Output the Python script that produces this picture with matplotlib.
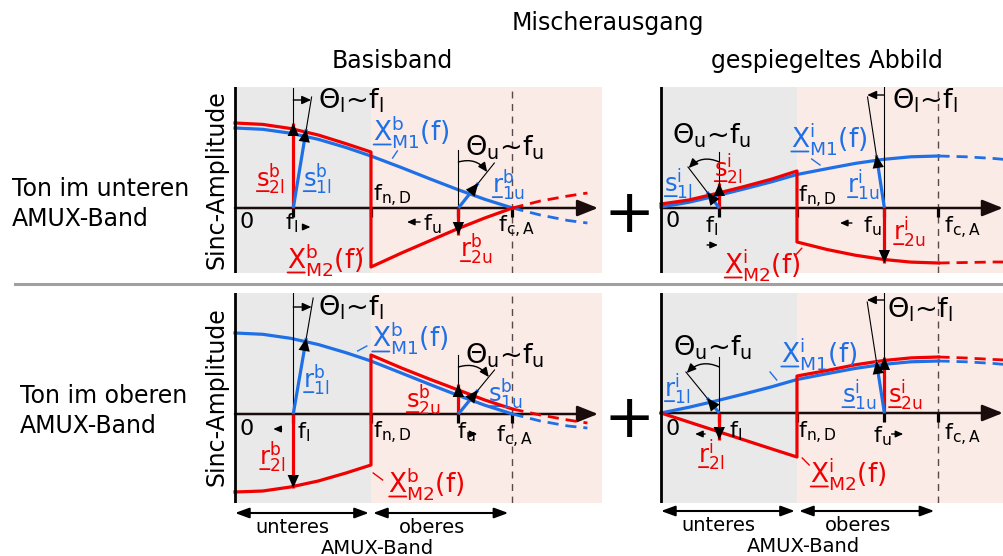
import matplotlib
matplotlib.use('Agg')
import matplotlib.pyplot as plt
from matplotlib.transforms import offset_copy
from matplotlib.mathtext import MathTextParser
from matplotlib.font_manager import FontProperties

plt.rcParams['font.family'] = ['DejaVu Sans']
plt.rcParams['mathtext.fontset'] = 'dejavusans'
plt.rcParams['mathtext.default'] = 'regular'

W, H = 1004, 556
fig = plt.figure(figsize=(W / 100, H / 100), dpi=100)

try:
    MathTextParser('path').parse(r'$\underline{s}$', 72, FontProperties())
    HAS_UL = True
except Exception:
    HAS_UL = False

RED = '#f00000'
BLUE = '#1f6fe6'
GRAY_BG = '#e9e9e9'
PINK_BG = '#fbebe6'
DASH_C = '#5a4848'

# ---------------- data (frequency normalised to f_c,A ; amplitude in arbitrary units) -------------
F_LOW = [0.0, 0.1, 0.2, 0.3, 0.4, 0.49]
F_UP = [0.49, 0.6, 0.7, 0.8, 0.9, 1.0]
F_EXT_LEFT = [1.0, 1.1, 1.2, 1.27]
F_EXT_RIGHT = [1.0, 1.1, 1.2, 1.24]
F_L, F_ND, F_U, F_CA = 0.21, 0.49, 0.805, 1.0

# top-left: Basisband, Ton im unteren Band
TL_BLUE_LOW = [80, 78.7, 74.8, 68.7, 60.5, 52]
TL_BLUE_UP = [52, 40.4, 29.4, 18.7, 8.7, 0]
TL_BLUE_EXT = [0, -7, -12.5, -15]
TL_RED_LOW = [85, 83.6, 79.5, 73, 64.3, 56]
TL_RED_UP = [-59, -45, -33, -21, -10, 0]
TL_RED_EXT = [0, 7, 12, 15]
# top-right: gespiegeltes Abbild, Ton im unteren Band
TR_BLUE_LOW = [1, 5.7, 12.2, 19.1, 26.3, 33.5]
TR_BLUE_UP = [33.5, 39.4, 44.6, 48.6, 51.2, 52]
TR_BLUE_EXT = [52, 51.2, 49.5, 48.5]
TR_RED_LOW = [4, 8, 14.5, 21.5, 29, 37]
TR_RED_UP = [-34, -41.6, -47.2, -51.4, -54.1, -55]
TR_RED_EXT = [-55, -54.5, -54, -54]
# bottom-left: Basisband, Ton im oberen Band
BL_BLUE_LOW = [81, 79.7, 75.7, 69.5, 61.3, 53]
BL_BLUE_UP = [53, 40.9, 29.8, 19, 8.8, 0]
BL_BLUE_EXT = [0, -7, -12, -14]
BL_RED_LOW = [-78, -77, -73, -67, -59, -51]
BL_RED_UP = [59, 46, 35, 24.5, 14, 5]
BL_RED_EXT = [5, -1, -6, -9]
# bottom-right: gespiegeltes Abbild, Ton im oberen Band
BR_BLUE_LOW = [0, 5.7, 12.2, 19.1, 26.3, 33.5]
BR_BLUE_UP = [33.5, 39.4, 44.6, 48.6, 51.2, 52]
BR_BLUE_EXT = [52, 51.2, 49.5, 48.5]
BR_RED_LOW = [0, -9, -18, -27, -36, -44]
BR_RED_UP = [37, 42.6, 48.2, 52.4, 55.1, 56]
BR_RED_EXT = [56, 55, 53.5, 53]

# phasors: red ones are vertical (amplitude), blue ones tip (frequency, amplitude)
TL_S2L_RED, TL_S1L_BLUE, TL_R2U_RED, TL_R1U_BLUE = 85, (0.257, 79), -27, (0.877, 25)
TR_S2L_RED, TR_S1L_BLUE, TR_R2U_RED, TR_R1U_BLUE = 25, (0.166, 16), -55, (0.776, 53)
BL_R2L_RED, BL_R1L_BLUE, BL_S2U_RED, BL_S1U_BLUE = -74, (0.257, 76), 30, (0.876, 24)
BR_R2L_RED, BR_R1L_BLUE, BR_S2U_RED, BR_S1U_BLUE = -27, (0.166, 15), 56, (0.776, 52)

# ---------------- layout ----------------
S = 277.5  # px per unit frequency
VS = 17.5   # phasor label size
XS = 19     # curve label size
TS = 19.5   # theta label size
FS = 16     # frequency label size


def make_panel(x0, xl, xr, yt, yb, yaxis):
    ax = fig.add_axes([xl / W, 1 - yb / H, (xr - xl) / W, (yb - yt) / H])
    ax.set_xlim((xl - x0) / S, (xr - x0) / S)
    ax.set_ylim(yaxis - yb, yaxis - yt)
    ax.axis('off')
    return ax


def head(ax, f0, a0, f1, a1, ms=17, hl=0.55, hw=0.24):
    ax.annotate('', xy=(f1, a1), xytext=(f0, a0),
                arrowprops=dict(arrowstyle='-|>,head_length=%g,head_width=%g' % (hl, hw),
                                color='black', lw=0, mutation_scale=ms, shrinkA=0, shrinkB=0),
                zorder=7)


def phasor(ax, fb, f1, a1, color):
    ax.plot([fb, f1], [0, a1], color=color, lw=2.3, solid_capstyle='butt', zorder=6)
    head(ax, fb, 0, f1, a1)


def small_arrow(ax, f0, f1, a, ms=9, lw=1.0):
    ax.annotate('', xy=(f1, a), xytext=(f0, a),
                arrowprops=dict(arrowstyle='-|>,head_length=0.5,head_width=0.22', color='black',
                                lw=lw, mutation_scale=ms, shrinkA=0, shrinkB=0), zorder=7)


def theta_lines(ax, fb, tip, top, ext):
    ax.plot([fb, fb], [0, top], color='black', lw=0.8, zorder=5)
    fe = fb + (tip[0] - fb) * ext / tip[1]
    ax.plot([fb, fe], [0, ext], color='black', lw=0.8, zorder=5)


def theta_hor(ax, fb, tip, a):
    fe = fb + (tip[0] - fb) * a / tip[1]
    ax.annotate('', xy=(fe, a), xytext=(fb, a),
                arrowprops=dict(arrowstyle='-|>,head_length=0.55,head_width=0.25', color='black',
                                lw=1.0, mutation_scale=10, shrinkA=0, shrinkB=0), zorder=7)


def theta_arc(ax, fb, tip, a0, a1, rad):
    fe = fb + (tip[0] - fb) * a1 / tip[1]
    ax.annotate('', xy=(fe, a1), xytext=(fb, a0),
                arrowprops=dict(arrowstyle='-|>,head_length=0.55,head_width=0.25', color='black',
                                lw=1.0, mutation_scale=10, shrinkA=0, shrinkB=0,
                                connectionstyle='arc3,rad=%g' % rad), zorder=7)


ADV = {'s': 0.521, 'r': 0.411, 'X': 0.685}


def vlabel(ax, f, a, base, sub, sup, color, size=VS, tail=''):
    if HAS_UL:
        s = r'$\underline{%s}_{%s}^{%s}%s$' % (base, sub, sup, tail)
    else:
        s = r'$%s_{%s}^{%s}%s$' % (base, sub, sup, tail)
    ax.text(f, a, s, color=color, fontsize=size, ha='left', va='baseline', zorder=8)
    if not HAS_UL:
        tr = offset_copy(ax.transData, fig=fig, x=0.5, y=-0.17 * size, units='points')
        ax.annotate('', xy=(f, a), xycoords=tr, xytext=(ADV[base] * size * 0.95, 0),
                    textcoords='offset points',
                    arrowprops=dict(arrowstyle='-', color=color, lw=1.3, shrinkA=0, shrinkB=0))


def leader(ax, f0, a0, f1, a1, color):
    ax.plot([f0, f1], [a0, a1], color=color, lw=1.0, zorder=8)


def tx(ax, f, a, s, size=FS, color='black'):
    ax.text(f, a, s, fontsize=size, color=color, ha='left', va='baseline', zorder=8)


def base_panel(ax, f_ext, blue_low, blue_up, blue_ext, red_low, red_up, red_ext, axis_end):
    x1 = ax.get_xlim()[1]
    ax.axvspan(0, F_ND, color=GRAY_BG, lw=0, zorder=0)
    ax.axvspan(F_ND, x1, color=PINK_BG, lw=0, zorder=0)
    ax.axvline(F_CA, color=DASH_C, lw=1.0, ls=(0, (5, 4)), zorder=1)
    ax.axvline(0, color='black', lw=2.0, zorder=5)
    ax.annotate('', xy=(axis_end, 0), xytext=(0, 0),
                arrowprops=dict(arrowstyle='-|>,head_length=0.7,head_width=0.28', color='#1a0c0c',
                                lw=1.8, mutation_scale=18, shrinkA=0, shrinkB=0), zorder=3)
    for f in (F_L, F_ND, F_U, F_CA):
        ax.plot([f, f], [0, -9], color='black', lw=2.3, solid_capstyle='butt', zorder=4)
    ax.plot(F_LOW + F_UP, blue_low + blue_up, color=BLUE, lw=2.3, zorder=4)
    ax.plot(f_ext, blue_ext, color=BLUE, lw=2.0, ls=(0, (4, 2.5)), zorder=4)
    ax.plot(F_LOW + F_UP, red_low + red_up, color=RED, lw=2.3, zorder=4)
    ax.plot(f_ext, red_ext, color=RED, lw=2.0, ls=(0, (4, 2.5)), zorder=4)


# ---------------- overlay (titles, side labels) ----------------
def ftext(x, y, s, **kw):
    fig.text(x / W, 1 - y / H, s, **kw)


ftext(608, 30, 'Mischerausgang', fontsize=17, ha='center', va='baseline')
ftext(392, 68, 'Basisband', fontsize=17, ha='center', va='baseline')
ftext(827, 68, 'gespiegeltes Abbild', fontsize=17, ha='center', va='baseline')
ftext(12, 196, 'Ton im unteren', fontsize=17, ha='left', va='baseline')
ftext(12, 226, 'AMUX-Band', fontsize=17, ha='left', va='baseline')
ftext(20, 403, 'Ton im oberen', fontsize=17, ha='left', va='baseline')
ftext(20, 433, 'AMUX-Band', fontsize=17, ha='left', va='baseline')
ftext(217, 180, 'Sinc-Amplitude', fontsize=17, ha='center', va='center', rotation=90)
ftext(217, 397, 'Sinc-Amplitude', fontsize=17, ha='center', va='center', rotation=90)
ftext(629, 209, '+', fontsize=44, ha='center', va='center_baseline')
ftext(629, 414, '+', fontsize=44, ha='center', va='center_baseline')
fig.add_artist(plt.Line2D([15 / W, 1], [1 - 284 / H, 1 - 284 / H], color='#a0a0a0', lw=2.2))

# ---------------- panels ----------------
TL = make_panel(235, 232, 602, 87, 273, 208)
TR = make_panel(661, 658, 1004, 87, 273, 208)
BL = make_panel(235, 232, 602, 293, 503, 414)
BR = make_panel(661, 658, 1004, 293, 503, 413)

base_panel(TL, F_EXT_LEFT, TL_BLUE_LOW, TL_BLUE_UP, TL_BLUE_EXT, TL_RED_LOW, TL_RED_UP, TL_RED_EXT, 1.308)
base_panel(TR, F_EXT_RIGHT, TR_BLUE_LOW, TR_BLUE_UP, TR_BLUE_EXT, TR_RED_LOW, TR_RED_UP, TR_RED_EXT, 1.232)
base_panel(BL, F_EXT_LEFT, BL_BLUE_LOW, BL_BLUE_UP, BL_BLUE_EXT, BL_RED_LOW, BL_RED_UP, BL_RED_EXT, 1.308)
base_panel(BR, F_EXT_RIGHT, BR_BLUE_LOW, BR_BLUE_UP, BR_BLUE_EXT, BR_RED_LOW, BR_RED_UP, BR_RED_EXT, 1.232)

TH_L = r'$\Theta_l$~$f_l$'
TH_U = r'$\Theta_u$~$f_u$'

# --- top-left
ax = TL
theta_lines(ax, F_L, TL_S1L_BLUE, 120, 111)
theta_hor(ax, F_L, TL_S1L_BLUE, 108)
theta_lines(ax, F_U, TL_R1U_BLUE, 58, 45)
theta_arc(ax, F_U, TL_R1U_BLUE, 46, 36, -0.35)
phasor(ax, F_L, F_L, TL_S2L_RED, RED)
phasor(ax, F_L, *TL_S1L_BLUE, BLUE)
phasor(ax, F_U, F_U, TL_R2U_RED, RED)
phasor(ax, F_U, *TL_R1U_BLUE, BLUE)
tx(ax, 0.299, 100, TH_L, TS)
tx(ax, 0.829, 53, TH_U, TS)
vlabel(ax, 0.076, 21, 's', '2l', 'b', RED)
vlabel(ax, 0.245, 21, 's', '1l', 'b', BLUE)
vlabel(ax, 0.497, 68, 'X', 'M1', 'b', BLUE, XS, tail='(f)')
vlabel(ax, 0.187, -60, 'X', 'M2', 'b', RED, XS, tail='(f)')
vlabel(ax, 0.926, 15, 'r', '1u', 'b', BLUE)
vlabel(ax, 0.811, -49, 'r', '2u', 'b', RED)
leader(ax, 0.568, 50, 0.585, 57, BLUE)
leader(ax, 0.438, -47, 0.461, -40, RED)
tx(ax, 0.018, -20, '0')
tx(ax, 0.18, -21, r'$f_l$')
small_arrow(ax, 0.245, 0.272, -19)
tx(ax, 0.497, 7, r'$f_{n,D}$')
small_arrow(ax, 0.667, 0.62, -14)
tx(ax, 0.677, -22, r'$f_u$')
tx(ax, 0.948, -24, r'$f_{c,A}$')

# --- top-right
ax = TR
theta_lines(ax, F_L, TR_S1L_BLUE, 56, 41)
theta_arc(ax, F_L, TR_S1L_BLUE, 46, 40, 0.35)
theta_lines(ax, F_U, TR_R1U_BLUE, 121, 111)
theta_hor(ax, F_U, TR_R1U_BLUE, 113)
phasor(ax, F_L, F_L, TR_S2L_RED, RED)
phasor(ax, F_L, *TR_S1L_BLUE, BLUE)
phasor(ax, F_U, F_U, TR_R2U_RED, RED)
phasor(ax, F_U, *TR_R1U_BLUE, BLUE)
tx(ax, 0.038, 65, TH_U, TS)
tx(ax, 0.831, 100, TH_L, TS)
vlabel(ax, 0.011, 16, 's', '1l', 'i', BLUE)
vlabel(ax, 0.191, 31, 's', '2l', 'i', RED)
vlabel(ax, 0.467, 61, 'X', 'M1', 'i', BLUE, XS, tail='(f)')
vlabel(ax, 0.227, -65, 'X', 'M2', 'i', RED, XS, tail='(f)')
vlabel(ax, 0.671, 15, 'r', '1u', 'i', BLUE)
vlabel(ax, 0.837, -32, 'r', '2u', 'i', RED)
leader(ax, 0.543, 49, 0.573, 43, BLUE)
leader(ax, 0.483, -47.7, 0.507, -40.3, RED)
tx(ax, 0.018, -19, '0')
tx(ax, 0.159, -24, r'$f_l$')
small_arrow(ax, 0.166, 0.205, -37)
tx(ax, 0.495, 6, r'$f_{n,D}$')
small_arrow(ax, 0.688, 0.645, -15)
tx(ax, 0.727, -24, r'$f_u$')
tx(ax, 1.02, -25, r'$f_{c,A}$')

# --- bottom-left
ax = BL
theta_lines(ax, F_L, BL_R1L_BLUE, 121, 116)
theta_hor(ax, F_L, BL_R1L_BLUE, 107)
theta_lines(ax, F_U, BL_S1U_BLUE, 59, 44)
theta_arc(ax, F_U, BL_S1U_BLUE, 47, 37, -0.35)
phasor(ax, F_L, F_L, BL_R2L_RED, RED)
phasor(ax, F_L, *BL_R1L_BLUE, BLUE)
phasor(ax, F_U, F_U, BL_S2U_RED, RED)
phasor(ax, F_U, *BL_S1U_BLUE, BLUE)
tx(ax, 0.300, 99, TH_L, TS)
tx(ax, 0.829, 51, TH_U, TS)
vlabel(ax, 0.246, 26, 'r', '1l', 'b', BLUE)
vlabel(ax, 0.088, -51, 'r', '2l', 'b', RED)
vlabel(ax, 0.492, 67, 'X', 'M1', 'b', BLUE, XS, tail='(f)')
vlabel(ax, 0.553, -78, 'X', 'M2', 'b', RED, XS, tail='(f)')
vlabel(ax, 0.616, 6, 's', '2u', 'b', RED)
vlabel(ax, 0.913, 12, 's', '1u', 'b', BLUE)
leader(ax, 0.442, 63, 0.475, 68, BLUE)
leader(ax, 0.498, -59, 0.532, -66, RED)
tx(ax, 0.018, -21, '0')
small_arrow(ax, 0.168, 0.138, -15)
tx(ax, 0.222, -24, r'$f_l$')
tx(ax, 0.496, -24, r'$f_{n,D}$')
tx(ax, 0.799, -24, r'$f_u$')
small_arrow(ax, 0.845, 0.873, -20)
tx(ax, 0.941, -28, r'$f_{c,A}$')

# --- bottom-right
ax = BR
theta_lines(ax, F_L, BR_R1L_BLUE, 56, 41)
theta_arc(ax, F_L, BR_R1L_BLUE, 46, 40, 0.35)
theta_lines(ax, F_U, BR_S1U_BLUE, 121, 111)
theta_hor(ax, F_U, BR_S1U_BLUE, 113)
phasor(ax, F_L, F_L, BR_R2L_RED, RED)
phasor(ax, F_L, *BR_R1L_BLUE, BLUE)
phasor(ax, F_U, F_U, BR_S2U_RED, RED)
phasor(ax, F_U, *BR_S1U_BLUE, BLUE)
tx(ax, 0.044, 58, TH_U, TS)
tx(ax, 0.816, 96, TH_L, TS)
vlabel(ax, 0.011, 16, 'r', '1l', 'i', BLUE)
vlabel(ax, 0.134, -50, 'r', '2l', 'i', RED)
vlabel(ax, 0.431, 51, 'X', 'M1', 'i', BLUE, XS, tail='(f)')
vlabel(ax, 0.537, -69, 'X', 'M2', 'i', RED, XS, tail='(f)')
vlabel(ax, 0.651, 10, 's', '1u', 'i', BLUE)
vlabel(ax, 0.819, 10, 's', '2u', 'i', RED)
leader(ax, 0.393, 41, 0.417, 33, BLUE)
leader(ax, 0.509, -45, 0.534, -52, RED)
tx(ax, 0.018, -22, '0')
small_arrow(ax, 0.159, 0.123, -21)
tx(ax, 0.246, -24, r'$f_l$')
tx(ax, 0.495, -25, r'$f_{n,D}$')
tx(ax, 0.765, -29, r'$f_u$')
small_arrow(ax, 0.831, 0.873, -21)
tx(ax, 1.02, -27, r'$f_{c,A}$')

# --- band arrows below the bottom panels
for ax, off in ((BL, 0), (BR, 1)):
    ya = -99 + off
    ax.annotate('', xy=(F_ND, ya), xytext=(0, ya),
                arrowprops=dict(arrowstyle='<|-|>,head_length=0.6,head_width=0.22', color='black',
                                lw=1.5, mutation_scale=14, shrinkA=0, shrinkB=1.5),
                annotation_clip=False)
    ax.annotate('', xy=(F_CA, ya), xytext=(F_ND, ya),
                arrowprops=dict(arrowstyle='<|-|>,head_length=0.6,head_width=0.22', color='black',
                                lw=1.5, mutation_scale=14, shrinkA=1.5, shrinkB=3),
                annotation_clip=False)
    ax.text(0.205, ya - 20, 'unteres', fontsize=14, ha='center', va='baseline')
    ax.text(0.71, ya - 20, 'oberes', fontsize=14, ha='center', va='baseline')
    ax.text(0.512, ya - 40.5, 'AMUX-Band', fontsize=14, ha='center', va='baseline')

fig.savefig('out.png', dpi=100)
